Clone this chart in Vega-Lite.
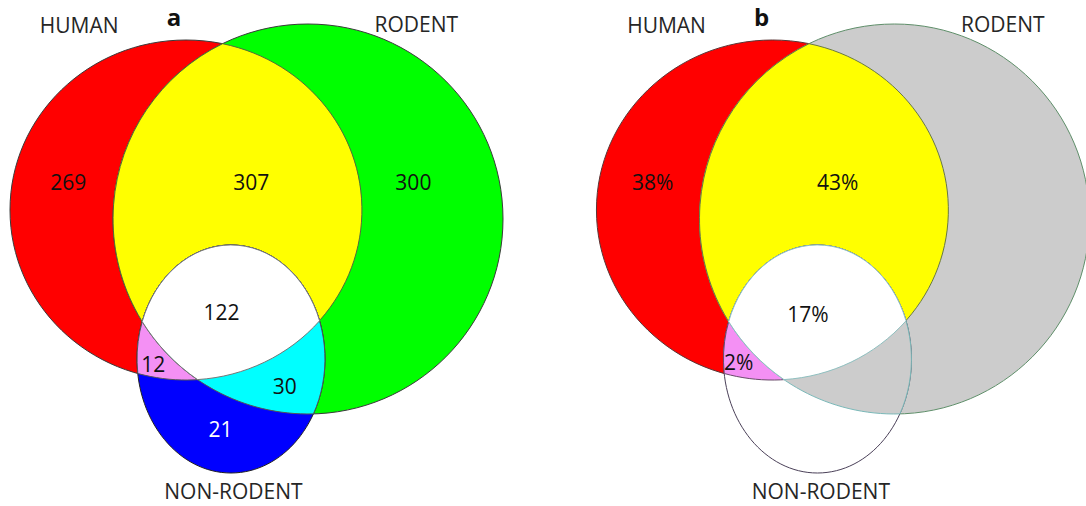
{
  "$schema": "https://vega.github.io/schema/vega-lite/v6.json",
  "width": 1086,
  "height": 506,
  "autosize": {"type": "fit", "contains": "padding"},
  "padding": 0,
  "background": "white",
  "config": {"view": {"stroke": null}},
  "datasets": {
    "regions": [
      {"panel": "a", "region": "H", "key": "a-H", "x": 0, "y": 0},
      {"panel": "a", "region": "R", "key": "a-R", "x": 0, "y": 0},
      {"panel": "a", "region": "HR", "key": "a-HR", "x": 0, "y": 0},
      {"panel": "a", "region": "N", "key": "a-N", "x": 0, "y": 0},
      {"panel": "a", "region": "HN", "key": "a-HN", "x": 0, "y": 0},
      {"panel": "a", "region": "RN", "key": "a-RN", "x": 0, "y": 0},
      {"panel": "a", "region": "HRN", "key": "a-HRN", "x": 0, "y": 0},
      {"panel": "b", "region": "H", "key": "b-H", "x": 593, "y": 0},
      {"panel": "b", "region": "R", "key": "b-R", "x": 593, "y": 0},
      {"panel": "b", "region": "HR", "key": "b-HR", "x": 593, "y": 0},
      {"panel": "b", "region": "N", "key": "b-N", "x": 593, "y": 0},
      {"panel": "b", "region": "HN", "key": "b-HN", "x": 593, "y": 0},
      {"panel": "b", "region": "RN", "key": "b-RN", "x": 593, "y": 0},
      {"panel": "b", "region": "HRN", "key": "b-HRN", "x": 593, "y": 0}
    ],
    "labels": [
      {"label": "HUMAN", "kind": "name", "x": 80, "y": 27},
      {"label": "a", "kind": "title", "x": 176, "y": 19},
      {"label": "RODENT", "kind": "name", "x": 421, "y": 26},
      {"label": "269", "kind": "count", "x": 69, "y": 184},
      {"label": "307", "kind": "count", "x": 254, "y": 184},
      {"label": "300", "kind": "count", "x": 418, "y": 184},
      {"label": "122", "kind": "count", "x": 224, "y": 314},
      {"label": "12", "kind": "count", "x": 155, "y": 366},
      {"label": "30", "kind": "count", "x": 288, "y": 388},
      {"label": "21", "kind": "countW", "x": 223, "y": 431},
      {"label": "NON-RODENT", "kind": "name", "x": 236, "y": 493},
      {"label": "HUMAN", "kind": "name", "x": 674, "y": 27},
      {"label": "b", "kind": "title", "x": 770, "y": 19},
      {"label": "RODENT", "kind": "name", "x": 1014, "y": 26},
      {"label": "38%", "kind": "count", "x": 660, "y": 184},
      {"label": "43%", "kind": "count", "x": 847, "y": 184},
      {"label": "17%", "kind": "count", "x": 817, "y": 316},
      {"label": "2%", "kind": "count", "x": 747, "y": 364},
      {"label": "NON-RODENT", "kind": "name", "x": 830, "y": 493}
    ]
  },
  "layer": [
    {
      "data": {"name": "regions"},
      "mark": {"type": "point", "filled": true, "size": 4, "opacity": 1, "fillOpacity": 1, "strokeOpacity": 1, "strokeWidth": 1},
      "encoding": {
        "x": {"field": "x", "type": "quantitative", "scale": {"domain": [0, 1086], "nice": false, "zero": false}, "axis": null},
        "y": {"field": "y", "type": "quantitative", "scale": {"domain": [0, 506], "nice": false, "zero": false, "reverse": true}, "axis": null},
        "shape": {
          "field": "region", "type": "nominal", "legend": null,
          "scale": {
            "domain": ["H", "R", "HR", "N", "HN", "RN", "HRN"],
            "range": [
              "M 10 210 A 176 170 0 1 1 362 210 A 176 170 0 1 1 10 210 Z",
              "M 113 219 A 195 195 0 1 1 503 219 A 195 195 0 1 1 113 219 Z",
              "M 222.6 43.7 A 195 195 0 0 0 197.5 379.6 A 176 170 0 0 0 222.6 43.7 Z",
              "M 137 359 A 94 114 0 1 1 325 359 A 94 114 0 1 1 137 359 Z",
              "M 137.8 373.5 A 94 114 0 0 1 319.6 320.8 A 176 170 0 0 1 137.8 373.5 Z",
              "M 142.2 321.6 A 94 114 0 1 1 313.4 413.9 A 195 195 0 0 1 142.2 321.6 Z",
              "M 142.2 321.6 A 94 114 0 0 1 319.6 320.8 A 176 170 0 0 1 197.5 379.6 A 195 195 0 0 1 142.2 321.6 Z"
            ]
          }
        },
        "fill": {
          "field": "key", "type": "nominal", "legend": null,
          "scale": {
            "domain": ["a-H", "a-R", "a-HR", "a-N", "a-HN", "a-RN", "a-HRN", "b-H", "b-R", "b-HR", "b-N", "b-HN", "b-RN", "b-HRN"],
            "range": ["#ff0000", "#00ff00", "#ffff00", "#0000ff", "#f490f4", "#00ffff", "#ffffff", "#ff0000", "#cccccc", "#ffff00", "#ffffff", "#f490f4", "#cccccc", "#ffffff"]
          }
        },
        "stroke": {
          "field": "key", "type": "nominal", "legend": null,
          "scale": {
            "domain": ["a-H", "a-R", "a-HR", "a-N", "a-HN", "a-RN", "a-HRN", "b-H", "b-R", "b-HR", "b-N", "b-HN", "b-RN", "b-HRN"],
            "range": ["#3a3a3a", "#3a3a3a", "#556b3a", "#222222", "#555555", "#555555", "#777777", "#5a3535", "#5f8f6a", "#6a7a40", "#4a4058", "#6a4a6a", "#7ab8b8", "#8fc0c0"]
          }
        }
      }
    },
    {
      "data": {"name": "labels"},
      "transform": [{"filter": "datum.kind !== 'title'"}],
      "mark": {"type": "text", "font": "Open Sans", "fontSize": 21, "align": "center", "baseline": "middle"},
      "encoding": {
        "x": {"field": "x", "type": "quantitative"},
        "y": {"field": "y", "type": "quantitative"},
        "text": {"field": "label"},
        "color": {
          "field": "kind", "type": "nominal", "legend": null,
          "scale": {"domain": ["name", "count", "countW"], "range": ["#262626", "#111111", "#ffffff"]}
        }
      }
    },
    {
      "data": {"name": "labels"},
      "transform": [{"filter": "datum.kind === 'title'"}],
      "mark": {"type": "text", "font": "Open Sans", "fontSize": 24, "fontWeight": "bold", "align": "center", "baseline": "middle", "color": "#111111"},
      "encoding": {
        "x": {"field": "x", "type": "quantitative"},
        "y": {"field": "y", "type": "quantitative"},
        "text": {"field": "label"}
      }
    }
  ]
}
